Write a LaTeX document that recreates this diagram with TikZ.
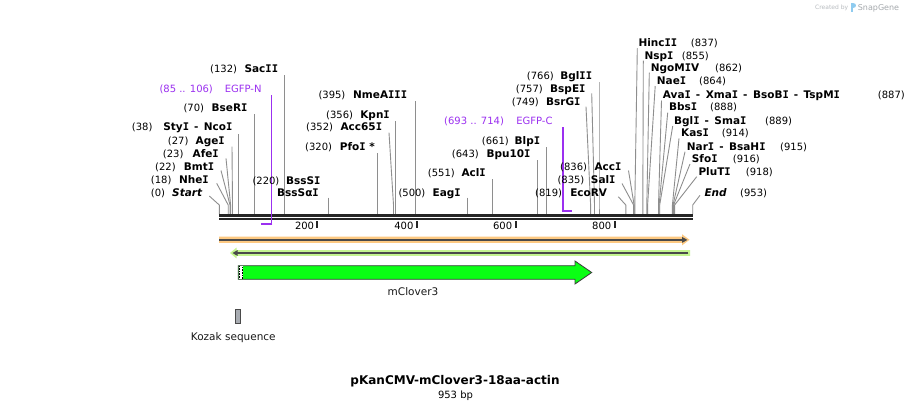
\documentclass[tikz,border=0pt]{standalone}
\usepackage{fontspec}
\setmainfont{DejaVu Sans}
\newfontfamily\monofam{DejaVu Sans Mono}
\usetikzlibrary{arrows.meta}
\definecolor{barc}{HTML}{262626}
\definecolor{sitec}{HTML}{8E8E8E}
\definecolor{purp}{HTML}{9B30F0}
\definecolor{orangeband}{HTML}{FDC982}
\definecolor{greenband}{HTML}{C4F590}
\definecolor{darkline}{HTML}{4A4A4A}
\definecolor{featgreen}{HTML}{0AFF14}
\definecolor{featedge}{HTML}{3C3C3C}
\definecolor{kozakc}{HTML}{A8ACB2}
\definecolor{wmgrey}{HTML}{B8BCC0}
\definecolor{wmblue}{HTML}{8FCBEF}
\tikzset{
  num/.style={font=\fontsize{10}{12}\selectfont, inner sep=0pt, text=black},
  ename/.style={font=\fontsize{10.5}{12}\selectfont\bfseries, inner sep=0pt, text=black},
  purptext/.style={font=\fontsize{10}{12}\selectfont, inner sep=0pt, text=purp},
  siteln/.style={draw=sitec, line width=0.9pt},
  barln/.style={draw=barc, line width=2.5pt},
  tickln/.style={draw=barc, line width=1.8pt},
  purpln/.style={draw=purp, line width=1.7pt},
  featlab/.style={font=\fontsize{10.5}{12}\selectfont, inner sep=0pt, text=black!90},
}
\newcommand{\mI}{{\monofam I}}
\newcommand{\dsep}{\hspace{5pt}-\hspace{5.5pt}}
\newcommand{\leftlab}[6]{%
  \node[num,anchor=base west] (n#1) at (#4,#6+4) {#2};
  \node[ename,anchor=base east] (e#1) at (#5,#6+4) {#3};}
\newcommand{\rightlab}[6]{%
  \node[ename,anchor=base west] (e#1) at (#4,#6+4) {#2};
  \node[num,anchor=base west] (n#1) at (#5,#6+4) {#3};}
\newcommand{\siteline}[4]{%
  \coordinate (t#1) at (#2,#3);
  \coordinate (k#1) at (#4,205);
  \coordinate (b#1) at (#4,214);
  \draw[siteln] (t#1) -- (k#1) -- (b#1);}
\begin{document}
\begin{tikzpicture}[x=1pt,y=-1pt]
\useasboundingbox[fill=white] (0,0) rectangle (912,410);

% ---------- site lines ----------
\siteline{0}{209.3}{196}{219.3}
\siteline{18}{216.7}{183.3}{228.2}
\siteline{22}{221}{170.5}{230.0}
\siteline{23}{226}{158.3}{230.6}
\siteline{27}{232}{146.7}{232.5}
\siteline{38}{238.2}{134.3}{238.2}
\siteline{70}{254.1}{114.3}{254.1}
\siteline{132}{284.6}{75}{284.6}
\siteline{220}{328.4}{197.7}{328.4}
\siteline{320}{377.6}{153.3}{377.6}
\siteline{352}{389}{132.7}{393.5}
\siteline{356}{395.7}{121}{395.7}
\siteline{395}{415.5}{101}{415.5}
\siteline{500}{467.4}{197.7}{467.4}
\siteline{551}{492.5}{179}{492.5}
\siteline{643}{537.8}{160}{537.8}
\siteline{661}{546.9}{147.3}{546.9}
\siteline{749}{586}{106.7}{590.6}
\siteline{757}{591.7}{93.3}{594.5}
\siteline{766}{599}{82.3}{599}
\siteline{819}{618.3}{196.7}{625.8}
\siteline{835}{622}{183.5}{633.6}
\siteline{836}{628.5}{170.5}{634.1}
\siteline{837}{637.3}{48.3}{634.8}
\siteline{855}{643.3}{60.5}{642.8}
\siteline{862}{649.3}{72.7}{646.8}
\siteline{864}{655.2}{86}{647.6}
\siteline{887}{661.5}{100.5}{658.5}
\siteline{888}{667.7}{112.7}{659.1}
\siteline{889}{672.7}{126}{659.7}
\siteline{914}{679}{138.3}{672.4}
\siteline{915}{685}{151.7}{673.0}
\siteline{916}{690}{164}{673.6}
\siteline{918}{696.7}{176.7}{674.6}
\siteline{953}{700}{195.3}{692.7}

% ---------- sequence bar ----------
\coordinate (barL) at (219,215.3);
\coordinate (barR) at (692.7,215.3);
\coordinate (barL2) at (219,219.2);
\coordinate (barR2) at (692.7,219.2);
\draw[barln] (barL) -- (barR);
\draw[barln] (barL2) -- (barR2);

% ticks
\foreach \tx/\tl/\lx in {317.3/200/314.3, 416.7/400/413.6, 515.7/600/512.4, 615/800/611.5}{
  \draw[tickln] (\tx,221) -- (\tx,227.5);
  \node[num,anchor=base east] (tick\tl) at (\lx,229.3) {\tl};
}

% ---------- purple features ----------
\node[purptext,anchor=base west] (pnnum) at (159.3,92.3) {(85 .. 106)};
\node[purptext,anchor=base east] (pnname) at (261.7,92.3) {EGFP-N};
\coordinate (pn1) at (271.5,95);
\coordinate (pn2) at (271.5,224);
\coordinate (pn3) at (261,224);
\draw[purpln] (pn1) -- (pn2);
\draw[draw=purp,line width=2.3pt] (272.3,224) -- (pn3);

\node[purptext,anchor=base west] (pcnum) at (444,124.7) {(693 .. 714)};
\node[purptext,anchor=base east] (pcname) at (552.7,124.7) {EGFP-C};
\coordinate (pc1) at (562.7,127.3);
\coordinate (pc2) at (562.7,210.8);
\coordinate (pc3) at (572,210.8);
\draw[purpln] (pc1) -- (pc2);
\draw[draw=purp,line width=2.3pt] (561.9,210.8) -- (pc3);

% ---------- left labels ----------
\leftlab{0}{(0)}{\itshape Start}{150.7}{202.3}{192.3}
\leftlab{18}{(18)}{Nhe\mI}{150.7}{209}{179}
\leftlab{22}{(22)}{Bmt\mI}{155}{214.3}{166}
\leftlab{23}{(23)}{Afe\mI}{162.7}{219}{153.3}
\leftlab{27}{(27)}{Age\mI}{167.7}{225}{140.7}
\leftlab{38}{(38)}{Sty\mI\dsep Nco\mI}{131.7}{232.7}{126.7}
\leftlab{70}{(70)}{BseR\mI}{183.3}{247.7}{107.3}
\leftlab{132}{(132)}{Sac\mI\mI}{210}{278.3}{68}
\leftlab{220}{(220)}{BssS\mI}{252.3}{320.7}{180.7}
\node[ename,anchor=base east] (e220b) at (319,196) {BssSα\mI};
\leftlab{320}{(320)}{Pfo\mI\ *}{305}{375}{146}
\leftlab{352}{(352)}{Acc65\mI}{306}{382.3}{126.7}
\leftlab{356}{(356)}{Kpn\mI}{326}{390}{114}
\leftlab{395}{(395)}{NmeA\mI\mI\mI}{318.3}{407.3}{94}
\leftlab{500}{(500)}{Eag\mI}{398.3}{461}{192.3}
\leftlab{551}{(551)}{Acl\mI}{427.7}{486}{172.3}
\leftlab{643}{(643)}{Bpu10\mI}{451.7}{530.7}{153.3}
\leftlab{661}{(661)}{Blp\mI}{481.7}{540.3}{140}
\leftlab{749}{(749)}{BsrG\mI}{511.7}{580.7}{101}
\leftlab{757}{(757)}{BspE\mI}{515.7}{585.7}{88.3}
\leftlab{766}{(766)}{Bgl\mI\mI}{526.7}{592.3}{75}
\leftlab{819}{(819)}{EcoRV}{535}{607.3}{192.3}
\leftlab{835}{(835)}{Sal\mI}{557.3}{615.7}{179}
\leftlab{836}{(836)}{Acc\mI}{560}{621.7}{166}

% ---------- right labels ----------
\rightlab{837}{Hinc\mI\mI}{(837)}{638.3}{690.7}{42.7}
\rightlab{855}{Nsp\mI}{(855)}{644.3}{681.7}{55}
\rightlab{862}{NgoM\mI V}{(862)}{650.7}{715}{67.3}
\rightlab{864}{Nae\mI}{(864)}{656.7}{699}{80.7}
\rightlab{887}{Ava\mI\dsep Xma\mI\dsep BsoB\mI\dsep TspM\mI}{(887)}{662.7}{877.7}{94}
\rightlab{888}{Bbs\mI}{(888)}{669}{710}{106.7}
\rightlab{889}{Bgl\mI\dsep Sma\mI}{(889)}{674}{765}{120}
\rightlab{914}{Kas\mI}{(914)}{681}{721.7}{132.7}
\rightlab{915}{Nar\mI\dsep BsaH\mI}{(915)}{686.7}{780}{146}
\rightlab{916}{Sfo\mI}{(916)}{691.7}{732.7}{158.3}
\rightlab{918}{PluT\mI}{(918)}{698.3}{745.7}{171.7}
\rightlab{953}{\itshape End}{(953)}{704.3}{740}{192.3}

% ---------- orange band (forward) ----------
\fill[orangeband] (219,236.7) -- (682,236.7) -- (682,234.2) -- (689.5,239.8) -- (682,245.4) -- (682,242.9) -- (219,242.9) -- cycle;
\coordinate (obL) at (219,239.9);
\coordinate (obR) at (687.5,239.9);
\draw[darkline,line width=1.4pt,-{Triangle[length=5.5pt,width=5.5pt]}] (obL) -- (obR);

% ---------- green band (reverse) ----------
\fill[greenband] (690,250.1) -- (236.5,250.1) -- (236.5,247.6) -- (230,253) -- (236.5,258.4) -- (236.5,255.8) -- (690,255.8) -- cycle;
\coordinate (gbR) at (688.3,253);
\coordinate (gbL) at (232.5,253);
\draw[darkline,line width=1.4pt,-{Triangle[length=5pt,width=5.5pt]}] (gbR) -- (gbL);

% ---------- mClover3 feature ----------
\draw[fill=featgreen,draw=featedge,line width=0.8pt] (238.3,265.7) -- (575,265.7) -- (575,261) -- (591.7,272.5) -- (575,284) -- (575,279.3) -- (238.3,279.3) -- cycle;
\fill[white] (238.7,266.1) rectangle (243,278.9);
\draw[black,line width=0.6pt,dash pattern=on 0.8pt off 0.8pt] (239.6,266.1) -- (239.6,278.9);
\draw[black,line width=0.6pt,dash pattern=on 0.8pt off 0.8pt] (241.8,266.9) -- (241.8,278.9);
\node[featlab,anchor=base] (clover) at (413,295.5) {mClover3};

% ---------- Kozak ----------
\draw[fill=kozakc,draw=darkline,line width=0.8pt] (235.3,309.5) rectangle (240.7,323.2);
\node[featlab,anchor=base] (kozak) at (233.3,340) {Kozak sequence};

% ---------- title ----------
\node[font=\fontsize{12}{14}\selectfont\bfseries,inner sep=0pt,anchor=base] (title) at (455,384.3) {pKanCMV-mClover3-18aa-actin};
\node[num,anchor=base] (bp) at (455.5,398.3) {953 bp};

% ---------- watermark ----------
\node[font=\fontsize{6}{7}\selectfont,text=wmgrey,inner sep=0pt,anchor=base west] (wm1) at (815,9.3) {Created by};
\fill[wmblue] (851,3) rectangle (853,12) ;
\fill[wmblue] (853,3) .. controls (857,3) and (857,8) .. (853,8) -- cycle;
\node[font=\fontsize{8}{9}\selectfont,text=wmgrey!90!black,inner sep=0pt,anchor=base west] (wm2) at (857.7,10) {SnapGene};
\end{tikzpicture}
\end{document}
